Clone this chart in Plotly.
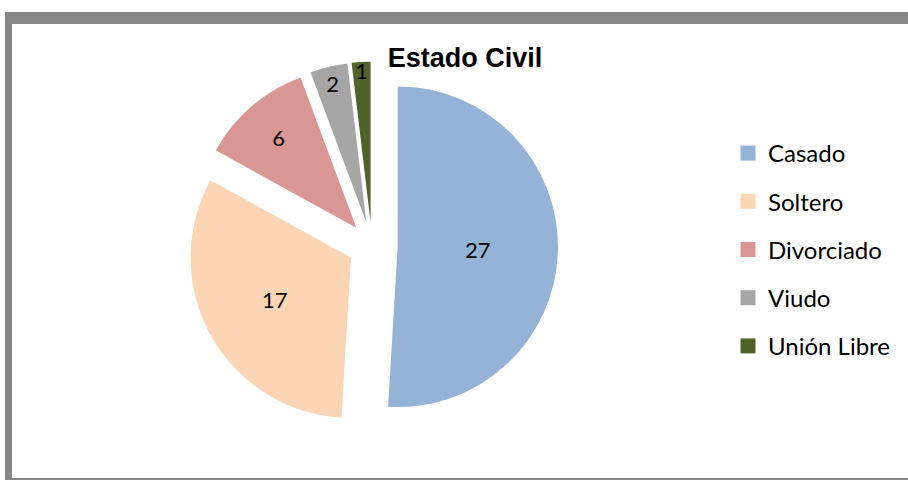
import plotly.graph_objects as go

categories = ["Casado", "Soltero", "Divorciado", "Viudo", "Unión Libre"]
values = [27, 17, 6, 2, 1]
colors = ["#95B3D7", "#FCD5B5", "#D99694", "#A6A6A6", "#4F6228"]
title_text = "Estado Civil"

W, H = 908, 480

fig = go.Figure()

cx, cy, d = 372, 246, 372
fig.add_trace(go.Pie(
    labels=categories,
    values=values,
    sort=False,
    direction="clockwise",
    rotation=0,
    pull=[0.16, 0.15, 0.15, 0.15, 0.15],
    marker=dict(colors=colors, line=dict(width=0)),
    textinfo="value",
    textposition="inside",
    insidetextorientation="horizontal",
    textfont=dict(family="Lato, Open Sans, sans-serif", size=22, color="#000000"),
    domain=dict(x=[(cx - 330) / W, (cx + 330) / W], y=[1 - (cy + d / 2) / H, 1 - (cy - d / 2) / H]),
    showlegend=False,
    hoverinfo="label+value",
))

# legend entries (one per category)
for i, (cat, col) in enumerate(zip(categories, colors)):
    fig.add_trace(go.Scatter(
        x=[None], y=[None], mode="markers", name=cat,
        marker=dict(symbol="square", size=15, color=col),
        legendgroup=f"g{i}", showlegend=True,
    ))

fig.update_layout(
    width=W, height=H,
    margin=dict(l=0, r=0, t=0, b=0),
    paper_bgcolor="white",
    plot_bgcolor="rgba(0,0,0,0)",
    xaxis=dict(visible=False),
    yaxis=dict(visible=False),
    uniformtext=dict(minsize=22, mode="show"),
    title=dict(text=f"<b>{title_text}</b>", x=465 / W, xanchor="center",
               y=1 - 58 / H, yanchor="middle",
               font=dict(family="Liberation Sans, Arial, sans-serif", size=27, color="#000000")),
    legend=dict(
        x=728 / W, y=1 - 131 / H, xanchor="left", yanchor="top",
        font=dict(family="Lato, Open Sans, sans-serif", size=24, color="#000000"),
        tracegroupgap=14, itemsizing="trace", bgcolor="rgba(0,0,0,0)",
    ),
    shapes=[
        dict(type="rect", xref="paper", yref="paper", x0=5 / W, x1=1.01, y0=0, y1=1 - 12 / H,
             fillcolor="#878787", line=dict(width=0), layer="below"),
        dict(type="rect", xref="paper", yref="paper", x0=12 / W, x1=1.01, y0=2 / H, y1=1 - 24 / H,
             fillcolor="white", line=dict(width=0), layer="below"),
    ],
)

fig.write_html("out.html", config={"displayModeBar": False},
               post_script="document.body.style.margin='0';document.body.style.overflow='hidden';")
